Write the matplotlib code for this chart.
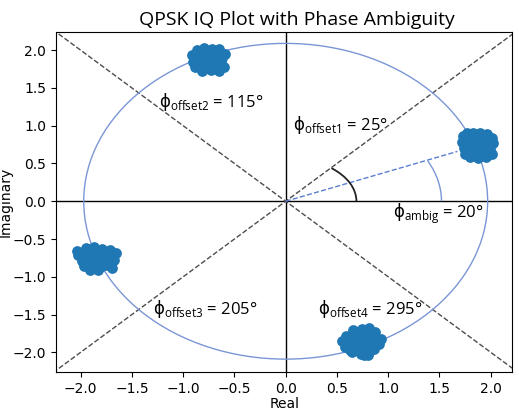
import numpy as np
import matplotlib
matplotlib.use("Agg")
import matplotlib.pyplot as plt
from matplotlib.patches import Ellipse, Arc

# ---- data ----
sym_I = [1.87, -0.75, -1.85, 0.735]
sym_Q = [0.74, 1.88, -0.76, -1.86]

c1_dx = [-0.14, -0.10, -0.04, 0.03, 0.09, 0.14, -0.15, -0.08, 0.00, 0.07, 0.15, -0.13, -0.05, 0.04, 0.12,
         -0.12, -0.04, 0.05, 0.14, -0.07, 0.01, 0.08, -0.02, 0.10,
         -0.11, -0.01, 0.06, 0.12, -0.10, 0.00, 0.09, -0.08, 0.09, -0.03, 0.04, 0.11, -0.12, 0.04]
c1_dy = [0.12, 0.16, 0.17, 0.16, 0.15, 0.10, 0.04, 0.07, 0.08, 0.06, 0.03, -0.04, 0.00, -0.01, -0.05,
         -0.11, -0.08, -0.09, -0.12, -0.15, -0.17, -0.16, 0.03, 0.10,
         0.10, 0.12, 0.11, 0.05, 0.00, -0.04, -0.02, -0.06, -0.10, -0.12, -0.13, 0.00, 0.07, 0.04]
c2_dx = [-0.12, -0.05, 0.03, 0.10, -0.16, -0.08, 0.01, 0.09, 0.16, -0.15, -0.06, 0.03, 0.12,
         -0.13, -0.04, 0.06, 0.15, -0.07, 0.02, 0.10, 0.00, -0.02,
         -0.09, 0.06, -0.12, 0.07, -0.10, 0.01, 0.10, -0.03, 0.06, 0.13, -0.03, 0.03]
c2_dy = [0.12, 0.15, 0.14, 0.13, 0.05, 0.07, 0.07, 0.06, 0.07, -0.03, -0.01, 0.00, -0.02,
         -0.10, -0.08, -0.09, -0.10, -0.15, -0.14, -0.15, 0.10, -0.04,
         0.11, 0.10, 0.01, 0.03, -0.06, -0.06, -0.06, -0.11, -0.12, 0.02, 0.04, -0.10]
c3_dx = [-0.19, -0.10, -0.02, 0.06, 0.14, 0.19, -0.13, -0.04, 0.05, 0.13, -0.14, -0.05, 0.04, 0.12, 0.18,
         -0.12, -0.03, 0.06, 0.16, -0.06, 0.02, -0.08,
         -0.15, -0.06, 0.02, 0.10, 0.16, -0.09, 0.00, 0.09, -0.09, 0.01, 0.11, -0.02, 0.15, -0.18]
c3_dy = [0.10, 0.14, 0.15, 0.13, 0.12, 0.08, 0.05, 0.06, 0.05, 0.03, -0.03, -0.02, -0.03, -0.05, -0.02,
         -0.10, -0.11, -0.10, -0.13, -0.15, -0.15, 0.10,
         0.08, 0.11, 0.10, 0.09, 0.06, 0.02, 0.01, 0.00, -0.07, -0.07, -0.09, -0.13, -0.07, 0.05]
c4_dx = [-0.08, 0.01, 0.08, 0.14, -0.15, -0.06, 0.04, 0.13, 0.19, -0.19, -0.10, -0.01, 0.09, 0.18,
         -0.16, -0.06, 0.04, 0.13, -0.09, 0.00, 0.07, 0.11,
         -0.03, 0.06, -0.11, 0.00, 0.09, 0.16, -0.14, -0.05, 0.05, 0.14, -0.11, -0.02, 0.08, 0.03]
c4_dy = [0.16, 0.17, 0.18, 0.13, 0.08, 0.09, 0.09, 0.06, 0.04, 0.01, 0.01, 0.00, -0.01, -0.03,
         -0.07, -0.08, -0.08, -0.10, -0.14, -0.16, -0.18, 0.12,
         0.13, 0.14, 0.05, 0.05, 0.04, 0.01, -0.03, -0.03, -0.04, -0.06, -0.11, -0.12, -0.13, -0.17]

ref_rx, ref_ry = 1.97, 2.09          # reference circle
ambig_angle = 21.5                    # drawn angle of ambiguity line (deg)
ambig_len = 1.8
labels = ["$\\mathsf{ϕ}_{\\mathrm{offset1}}$ = 25°", "$\\mathsf{ϕ}_{\\mathrm{offset2}}$ = 115°",
          "$\\mathsf{ϕ}_{\\mathrm{offset3}}$ = 205°", "$\\mathsf{ϕ}_{\\mathrm{offset4}}$ = 295°",
          "$\\mathsf{ϕ}_{\\mathrm{ambig}}$ = 20°"]
label_x = [0.07, -1.24, -1.29, 0.32, 1.05]
label_y = [1.01, 1.32, -1.43, -1.43, -0.17]

plt.rcParams['mathtext.fontset'] = 'custom'
plt.rcParams['mathtext.rm'] = 'Open Sans'
plt.rcParams['mathtext.sf'] = 'DejaVu Sans'

# ---- figure ----
fig = plt.figure(figsize=(5.19, 4.11), dpi=100)
ax = fig.add_axes([0.108, 0.095, 0.879, 0.827])

blue = '#1f77b4'
for cx, cy, dx, dy in zip(sym_I, sym_Q, [c1_dx, c2_dx, c3_dx, c4_dx], [c1_dy, c2_dy, c3_dy, c4_dy]):
    ax.scatter(cx + np.array(dx), cy + np.array(dy), s=45, color=blue, zorder=3)

ax.axhline(0, color='black', lw=1, zorder=1)
ax.axvline(0, color='black', lw=1, zorder=1)
ax.plot([-3, 3], [-3, 3], ls='--', color='0.3', lw=1, zorder=1)
ax.plot([-3, 3], [3, -3], ls='--', color='0.3', lw=1, zorder=1)

ax.add_patch(Ellipse((0, 0), 2 * ref_rx, 2 * ref_ry, fill=False, color='#7b96d6', lw=1, zorder=2))
a = np.deg2rad(ambig_angle)
ax.plot([0, ambig_len * np.cos(a)], [0, ambig_len * np.sin(a)], ls='--', color='#5b7fd0', lw=1, zorder=2)
ax.add_patch(Arc((0, 0), 1.38, 1.15, theta1=0, theta2=44.5, color='#222222', lw=1.3, zorder=2))
ax.add_patch(Arc((0, 0), 3.04, 2.6, theta1=0, theta2=21.1, color='#7b96d6', lw=1, zorder=2))

for t, x, y in zip(labels, label_x, label_y):
    ax.text(x, y, t, fontsize=12, va='center', ha='left', zorder=4,
            family=['Open Sans', 'DejaVu Sans'])

ax.set_xlim(-2.24, 2.21)
ax.set_ylim(-2.26, 2.24)
ax.set_xticks(np.arange(-2.0, 2.01, 0.5))
ax.set_yticks(np.arange(-2.0, 2.01, 0.5))
ax.set_xlabel('Real', labelpad=1)
ax.set_ylabel('Imaginary', labelpad=0)
ax.set_title('QPSK IQ Plot with Phase Ambiguity', fontsize=14, family='Open Sans', pad=5, x=0.528)

fig.savefig('out.png', dpi=100)
